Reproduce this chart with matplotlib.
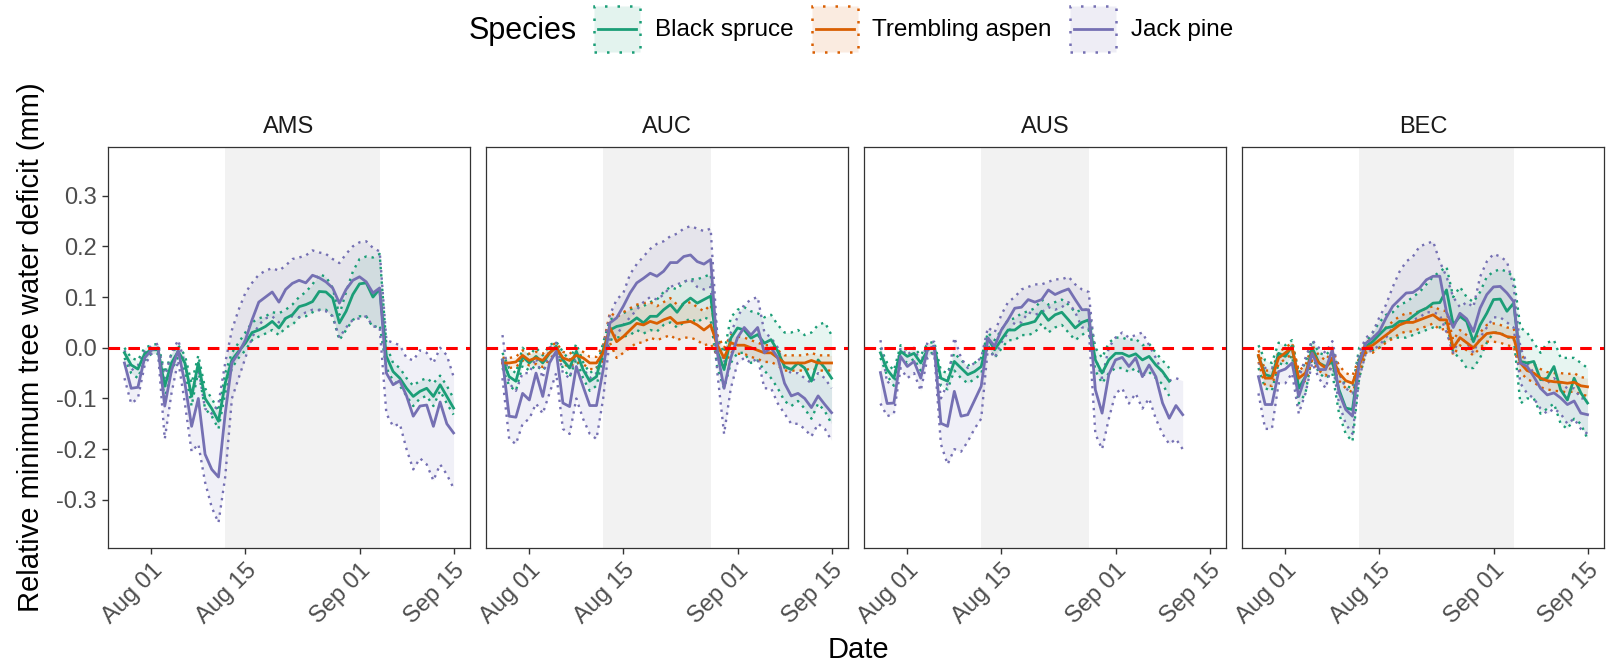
import numpy as np
import pandas as pd
import matplotlib
matplotlib.use("Agg")
import matplotlib.pyplot as plt
import matplotlib.dates as mdates
from matplotlib.patches import Patch, Rectangle
from matplotlib.lines import Line2D
from matplotlib.colors import to_rgba
from matplotlib.legend_handler import HandlerBase

plt.rcParams['font.family'] = ['Liberation Sans', 'DejaVu Sans']

# ---- data (relative minimum tree water deficit, mm), daily from Jul 28 ----
sites = ["AMS", "AUC", "AUS", "BEC"]
species = ["Black spruce", "Trembling aspen", "Jack pine"]
colors = ["#1B9E77", "#D95F02", "#7570B3"]
first_day = "2021-07-28"
drought_start = ["2021-08-12", "2021-08-12", "2021-08-12", "2021-08-12"]
drought_end = ["2021-09-04", "2021-08-28", "2021-08-28", "2021-09-04"]
tick_dates = ["2021-08-01", "2021-08-15", "2021-09-01", "2021-09-15"]

# AMS
ams_jp_mean = [-0.030, -0.080, -0.078, -0.020, -0.005, 0.000, -0.115, -0.045, -0.005, -0.070, -0.155, -0.100, -0.210, -0.240, -0.255, -0.130,
               -0.030, -0.010, 0.015, 0.055, 0.090, 0.100, 0.110, 0.090, 0.115, 0.127, 0.133, 0.128, 0.143, 0.138, 0.130, 0.118,
               0.088, 0.115, 0.133, 0.140, 0.130, 0.108, 0.118, -0.050, -0.073, -0.065, -0.095, -0.135, -0.115, -0.113, -0.155, -0.107, -0.150, -0.168]
ams_jp_hi = [-0.005, -0.045, -0.035, -0.008, 0.003, 0.008, -0.060, -0.010, 0.015, -0.030, -0.095, -0.040, -0.120, -0.130, -0.110, -0.030,
             0.035, 0.075, 0.108, 0.128, 0.144, 0.152, 0.157, 0.152, 0.162, 0.175, 0.178, 0.182, 0.192, 0.188, 0.185, 0.175,
             0.167, 0.185, 0.200, 0.208, 0.210, 0.197, 0.190, 0.015, 0.010, 0.005, -0.020, -0.025, -0.005, -0.010, -0.030, 0.000, -0.015, -0.057]
ams_jp_lo = [-0.060, -0.110, -0.100, -0.035, -0.012, -0.010, -0.180, -0.090, -0.025, -0.110, -0.205, -0.190, -0.265, -0.315, -0.345, -0.255,
             -0.100, -0.060, -0.020, 0.020, 0.045, 0.058, 0.062, 0.050, 0.058, 0.062, 0.060, 0.070, 0.075, 0.074, 0.072, 0.062,
             0.020, 0.040, 0.055, 0.058, 0.062, 0.042, 0.040, -0.130, -0.155, -0.150, -0.200, -0.240, -0.218, -0.230, -0.262, -0.230, -0.250, -0.277]
ams_bs_mean = [-0.010, -0.034, -0.042, -0.012, -0.004, -0.004, -0.076, -0.030, -0.007, -0.030, -0.096, -0.030, -0.100, -0.120, -0.145, -0.070,
               -0.024, -0.007, 0.009, 0.030, 0.035, 0.042, 0.052, 0.039, 0.058, 0.065, 0.081, 0.085, 0.091, 0.111, 0.110, 0.098,
               0.049, 0.072, 0.105, 0.126, 0.128, 0.100, 0.116, -0.017, -0.047, -0.060, -0.080, -0.096, -0.086, -0.080, -0.096, -0.073, -0.096, -0.119]
ams_bs_hi = [0.000, -0.020, -0.025, 0.000, 0.005, 0.008, -0.050, -0.012, 0.005, -0.015, -0.070, -0.015, -0.080, -0.100, -0.125, -0.050,
             -0.010, 0.010, 0.030, 0.050, 0.058, 0.062, 0.070, 0.068, 0.075, 0.085, 0.100, 0.110, 0.125, 0.145, 0.140, 0.118,
             0.065, 0.110, 0.150, 0.175, 0.180, 0.178, 0.185, 0.005, -0.030, -0.040, -0.060, -0.075, -0.065, -0.060, -0.070, -0.055, -0.075, -0.100]
ams_bs_lo = [-0.020, -0.050, -0.060, -0.025, -0.012, -0.012, -0.100, -0.045, -0.018, -0.045, -0.115, -0.045, -0.120, -0.135, -0.160, -0.090,
             -0.040, -0.020, -0.005, 0.015, 0.022, 0.028, 0.035, 0.025, 0.040, 0.045, 0.060, 0.062, 0.070, 0.075, 0.075, 0.062,
             0.015, 0.035, 0.055, 0.062, 0.062, 0.040, 0.045, -0.040, -0.065, -0.075, -0.095, -0.115, -0.100, -0.095, -0.115, -0.085, -0.110, -0.132]

# AUC
auc_jp_mean = [-0.024, -0.135, -0.137, -0.090, -0.103, -0.050, -0.096, -0.030, -0.007, -0.109, -0.116, -0.037, -0.076, -0.114, -0.114, -0.043,
               0.049, 0.059, 0.082, 0.108, 0.128, 0.137, 0.147, 0.141, 0.151, 0.168, 0.168, 0.180, 0.183, 0.170, 0.165, 0.174,
               -0.010, -0.080, -0.020, 0.020, 0.040, 0.025, 0.040, -0.010, 0.000, -0.020, -0.070, -0.095, -0.090, -0.100, -0.118, -0.095, -0.112, -0.128]
auc_jp_hi = [0.025, -0.070, -0.085, -0.050, -0.050, -0.020, -0.060, 0.000, 0.010, -0.050, -0.060, -0.010, -0.040, -0.060, -0.050, 0.000,
             0.065, 0.095, 0.108, 0.145, 0.165, 0.180, 0.195, 0.205, 0.210, 0.220, 0.225, 0.235, 0.240, 0.235, 0.230, 0.235,
             0.020, -0.030, 0.030, 0.060, 0.085, 0.095, 0.100, 0.030, 0.020, 0.000, -0.040, -0.050, -0.050, -0.060, -0.070, -0.050, -0.060, -0.080]
auc_jp_lo = [-0.060, -0.180, -0.190, -0.150, -0.140, -0.110, -0.130, -0.090, -0.050, -0.160, -0.170, -0.100, -0.140, -0.170, -0.180, -0.100,
             0.020, 0.025, 0.045, 0.060, 0.075, 0.090, 0.100, 0.095, 0.105, 0.120, 0.125, 0.130, 0.135, 0.120, 0.115, 0.120,
             -0.050, -0.170, -0.080, -0.030, -0.020, -0.030, -0.020, -0.080, -0.080, -0.110, -0.130, -0.150, -0.150, -0.160, -0.175, -0.150, -0.160, -0.183]
auc_bs_mean = [-0.024, -0.057, -0.066, -0.017, -0.030, -0.017, -0.030, -0.011, 0.003, -0.024, -0.040, -0.007, -0.043, -0.066, -0.057, -0.004,
               0.035, 0.042, 0.045, 0.049, 0.059, 0.049, 0.062, 0.062, 0.075, 0.085, 0.070, 0.088, 0.098, 0.088, 0.095, 0.102,
               -0.007, -0.043, 0.019, 0.039, 0.035, 0.019, 0.026, 0.009, 0.016, -0.007, -0.037, -0.043, -0.030, -0.040, -0.066, -0.024, -0.040, -0.060]
auc_bs_hi = [-0.010, -0.040, -0.050, 0.000, -0.015, 0.000, -0.015, 0.005, 0.012, -0.008, -0.025, 0.008, -0.028, -0.050, -0.040, 0.010,
             0.055, 0.062, 0.068, 0.075, 0.082, 0.082, 0.090, 0.095, 0.110, 0.120, 0.115, 0.130, 0.135, 0.135, 0.140, 0.145,
             0.020, -0.010, 0.060, 0.075, 0.080, 0.072, 0.068, 0.060, 0.065, 0.045, 0.030, 0.030, 0.035, 0.025, 0.030, 0.045, 0.050, 0.025]
auc_bs_lo = [-0.040, -0.075, -0.085, -0.035, -0.045, -0.035, -0.045, -0.028, -0.008, -0.040, -0.058, -0.022, -0.060, -0.085, -0.075, -0.020,
             0.015, 0.020, 0.022, 0.025, 0.035, 0.028, 0.035, 0.032, 0.045, 0.050, 0.040, 0.050, 0.058, 0.050, 0.060, 0.055,
             -0.040, -0.080, -0.030, -0.010, -0.010, -0.030, -0.025, -0.045, -0.060, -0.080, -0.105, -0.115, -0.105, -0.120, -0.140, -0.110, -0.125, -0.150]
auc_ta_mean = [-0.030, -0.030, -0.028, -0.015, -0.025, -0.020, -0.025, -0.010, 0.000, -0.020, -0.025, -0.015, -0.020, -0.030, -0.030, -0.010,
               0.040, 0.012, 0.022, 0.035, 0.048, 0.045, 0.052, 0.048, 0.055, 0.060, 0.048, 0.050, 0.052, 0.045, 0.035, 0.045,
               0.005, -0.020, 0.010, 0.005, 0.005, 0.000, -0.005, -0.010, -0.010, -0.020, -0.030, -0.030, -0.030, -0.030, -0.025, -0.030, -0.030, -0.030]
auc_ta_hi = [-0.020, -0.020, -0.018, -0.005, -0.012, -0.008, -0.012, 0.002, 0.010, -0.008, -0.012, -0.002, -0.008, -0.018, -0.018, 0.005,
             0.070, 0.060, 0.070, 0.078, 0.085, 0.088, 0.090, 0.082, 0.090, 0.098, 0.085, 0.085, 0.090, 0.080, 0.072, 0.085,
             0.025, 0.000, 0.025, 0.022, 0.020, 0.015, 0.010, 0.005, 0.005, -0.005, -0.015, -0.015, -0.015, -0.015, -0.010, -0.015, -0.015, -0.015]
auc_ta_lo = [-0.040, -0.040, -0.038, -0.025, -0.035, -0.032, -0.038, -0.022, -0.010, -0.032, -0.038, -0.028, -0.032, -0.042, -0.042, -0.025,
             0.010, -0.020, -0.010, 0.000, 0.010, 0.010, 0.020, 0.015, 0.020, 0.025, 0.015, 0.020, 0.020, 0.015, 0.005, 0.008,
             -0.015, -0.040, -0.008, -0.012, -0.012, -0.018, -0.022, -0.028, -0.028, -0.035, -0.045, -0.045, -0.045, -0.045, -0.040, -0.045, -0.045, -0.045]

# AUS (series stop early)
aus_jp_mean = [-0.049, -0.110, -0.109, -0.017, -0.037, -0.027, -0.060, -0.004, 0.003, -0.149, -0.155, -0.086, -0.135, -0.132, -0.104, -0.076,
               0.019, 0.003, 0.035, 0.055, 0.078, 0.080, 0.095, 0.090, 0.095, 0.114, 0.105, 0.111, 0.116, 0.095, 0.075, 0.075,
               -0.083, -0.129, -0.053, -0.024, -0.019, -0.037, -0.020, -0.057, -0.034, -0.057, -0.109, -0.139, -0.114, -0.132]
aus_jp_hi = [0.015, -0.070, -0.060, 0.000, -0.015, 0.000, -0.030, 0.010, 0.012, -0.100, -0.070, 0.020, -0.020, -0.040, -0.030, -0.020,
             0.040, 0.030, 0.065, 0.090, 0.100, 0.115, 0.120, 0.125, 0.125, 0.130, 0.135, 0.135, 0.140, 0.125, 0.115, 0.110,
             -0.020, -0.060, 0.000, 0.020, 0.030, 0.020, 0.025, 0.030, 0.005, -0.020, -0.050, -0.065, -0.060, -0.065]
aus_jp_lo = [-0.110, -0.135, -0.130, -0.040, -0.060, -0.050, -0.085, -0.020, -0.010, -0.190, -0.230, -0.200, -0.205, -0.185, -0.160, -0.140,
             0.000, -0.020, 0.010, 0.030, 0.050, 0.050, 0.070, 0.065, 0.070, 0.080, 0.075, 0.080, 0.090, 0.070, 0.040, 0.040,
             -0.170, -0.200, -0.140, -0.090, -0.080, -0.110, -0.090, -0.120, -0.100, -0.140, -0.170, -0.190, -0.180, -0.200]
aus_bs_mean = [-0.010, -0.043, -0.060, -0.007, -0.017, -0.011, -0.030, -0.004, 0.003, -0.060, -0.066, -0.027, -0.040, -0.053, -0.047, -0.037,
               0.019, -0.004, 0.016, 0.035, 0.035, 0.045, 0.048, 0.052, 0.072, 0.054, 0.065, 0.070, 0.055, 0.039, 0.050, 0.055,
               -0.024, -0.050, -0.024, -0.011, -0.011, -0.017, -0.012, -0.024, -0.017, -0.034, -0.047, -0.066]
aus_bs_hi = [0.000, -0.030, -0.045, 0.005, -0.005, 0.000, -0.015, 0.008, 0.012, -0.045, -0.050, -0.010, -0.025, -0.035, -0.030, -0.020,
             0.030, 0.015, 0.035, 0.055, 0.058, 0.068, 0.072, 0.078, 0.095, 0.085, 0.090, 0.095, 0.085, 0.070, 0.075, 0.075,
             0.000, -0.020, 0.010, 0.020, 0.020, 0.015, 0.018, 0.005, 0.008, -0.010, -0.025, -0.040]
aus_bs_lo = [-0.020, -0.055, -0.075, -0.020, -0.030, -0.022, -0.045, -0.015, -0.008, -0.075, -0.082, -0.045, -0.060, -0.070, -0.062, -0.052,
             0.005, -0.020, -0.002, 0.015, 0.015, 0.025, 0.025, 0.030, 0.048, 0.030, 0.040, 0.045, 0.030, 0.015, 0.025, 0.035,
             -0.045, -0.070, -0.050, -0.040, -0.040, -0.048, -0.040, -0.055, -0.048, -0.060, -0.072, -0.095]

# BEC
bec_jp_mean = [-0.057, -0.112, -0.112, -0.047, -0.042, -0.030, -0.096, -0.057, -0.011, -0.043, -0.043, -0.004, -0.089, -0.122, -0.135, -0.030,
               0.009, 0.019, 0.032, 0.059, 0.082, 0.095, 0.108, 0.109, 0.118, 0.134, 0.141, 0.141, 0.070, 0.040, 0.068, 0.057,
               0.032, 0.078, 0.105, 0.120, 0.121, 0.108, 0.091, -0.030, -0.037, -0.057, -0.080, -0.093, -0.089, -0.099, -0.112, -0.105, -0.129, -0.132]
bec_jp_hi = [-0.030, -0.040, -0.040, -0.020, -0.010, 0.000, -0.060, -0.020, 0.015, 0.000, -0.010, 0.013, -0.050, -0.080, -0.090, -0.010,
             0.020, 0.030, 0.060, 0.085, 0.120, 0.150, 0.170, 0.180, 0.200, 0.205, 0.210, 0.170, 0.140, 0.100, 0.080, 0.090,
             0.080, 0.140, 0.170, 0.185, 0.180, 0.170, 0.120, 0.000, -0.030, -0.050, -0.060, -0.070, -0.060, -0.070, -0.080, -0.080, -0.100, -0.100]
bec_jp_lo = [-0.090, -0.160, -0.160, -0.070, -0.070, -0.050, -0.130, -0.090, -0.030, -0.060, -0.080, -0.030, -0.110, -0.150, -0.170, -0.060,
             -0.010, -0.005, 0.005, 0.020, 0.040, 0.050, 0.055, 0.055, 0.060, 0.070, 0.070, 0.065, 0.030, -0.010, 0.020, 0.010,
             -0.010, 0.020, 0.040, 0.060, 0.060, 0.050, 0.040, -0.070, -0.090, -0.100, -0.120, -0.130, -0.120, -0.130, -0.150, -0.140, -0.160, -0.170]
bec_bs_mean = [-0.017, -0.053, -0.057, -0.011, -0.017, 0.003, -0.080, -0.057, 0.000, -0.030, -0.037, -0.027, -0.083, -0.119, -0.122, -0.024,
               0.003, 0.012, 0.026, 0.039, 0.042, 0.052, 0.052, 0.062, 0.072, 0.078, 0.088, 0.089, 0.114, 0.045, 0.062, 0.052,
               0.012, 0.045, 0.068, 0.095, 0.096, 0.072, 0.088, -0.027, -0.030, -0.027, -0.063, -0.060, -0.037, -0.083, -0.103, -0.060, -0.089, -0.109]
bec_bs_hi = [0.005, -0.025, -0.030, 0.010, 0.005, 0.015, -0.050, -0.030, 0.015, -0.010, -0.015, 0.000, -0.050, -0.075, -0.080, 0.000,
             0.010, 0.030, 0.050, 0.065, 0.070, 0.085, 0.090, 0.100, 0.110, 0.125, 0.140, 0.150, 0.160, 0.100, 0.120, 0.100,
             0.090, 0.110, 0.140, 0.150, 0.155, 0.150, 0.140, 0.040, 0.030, 0.010, -0.010, 0.010, 0.015, -0.020, -0.020, -0.020, -0.030, -0.040]
bec_bs_lo = [-0.040, -0.080, -0.085, -0.030, -0.035, -0.015, -0.110, -0.090, -0.015, -0.050, -0.060, -0.050, -0.130, -0.170, -0.185, -0.060,
             -0.010, -0.005, 0.000, 0.015, 0.020, 0.020, 0.020, 0.025, 0.030, 0.035, 0.040, 0.040, 0.050, -0.010, -0.020, -0.040,
             -0.040, -0.020, 0.010, 0.030, 0.030, 0.020, 0.020, -0.110, -0.100, -0.100, -0.130, -0.120, -0.110, -0.150, -0.160, -0.140, -0.150, -0.180]
bec_ta_mean = [-0.015, -0.060, -0.060, -0.020, -0.010, 0.000, -0.060, -0.050, -0.010, -0.030, -0.040, -0.020, -0.050, -0.065, -0.070, -0.035,
               0.000, 0.005, 0.015, 0.025, 0.035, 0.045, 0.050, 0.050, 0.055, 0.060, 0.065, 0.055, 0.055, 0.000, 0.020, 0.010,
               0.000, 0.015, 0.028, 0.030, 0.028, 0.022, 0.020, -0.030, -0.045, -0.050, -0.060, -0.065, -0.067, -0.068, -0.070, -0.068, -0.075, -0.077]
bec_ta_hi = [-0.005, -0.045, -0.045, -0.008, 0.000, 0.010, -0.045, -0.035, 0.005, -0.015, -0.025, -0.005, -0.035, -0.050, -0.055, -0.020,
             0.010, 0.020, 0.030, 0.040, 0.052, 0.062, 0.068, 0.068, 0.072, 0.078, 0.082, 0.075, 0.072, 0.015, 0.035, 0.025,
             0.015, 0.030, 0.045, 0.048, 0.045, 0.040, 0.038, -0.012, -0.028, -0.032, -0.042, -0.048, -0.050, -0.050, -0.052, -0.050, -0.058, -0.060]
bec_ta_lo = [-0.028, -0.075, -0.075, -0.032, -0.022, -0.012, -0.075, -0.065, -0.025, -0.045, -0.055, -0.035, -0.065, -0.080, -0.088, -0.050,
             -0.010, -0.010, 0.000, 0.010, 0.018, 0.028, 0.032, 0.032, 0.038, 0.042, 0.048, 0.035, 0.038, -0.015, 0.005, -0.005,
             -0.015, 0.000, 0.012, 0.012, 0.010, 0.005, 0.002, -0.048, -0.062, -0.068, -0.078, -0.082, -0.085, -0.086, -0.088, -0.086, -0.092, -0.095]

# site -> list of (species index, mean, lower, upper), in drawing order
series = {
    "AMS": [(0, ams_bs_mean, ams_bs_lo, ams_bs_hi), (2, ams_jp_mean, ams_jp_lo, ams_jp_hi)],
    "AUC": [(0, auc_bs_mean, auc_bs_lo, auc_bs_hi), (1, auc_ta_mean, auc_ta_lo, auc_ta_hi), (2, auc_jp_mean, auc_jp_lo, auc_jp_hi)],
    "AUS": [(0, aus_bs_mean, aus_bs_lo, aus_bs_hi), (2, aus_jp_mean, aus_jp_lo, aus_jp_hi)],
    "BEC": [(0, bec_bs_mean, bec_bs_lo, bec_bs_hi), (1, bec_ta_mean, bec_ta_lo, bec_ta_hi), (2, bec_jp_mean, bec_jp_lo, bec_jp_hi)],
}


# legend key: shaded box with dotted border and a line through the middle
class RibbonKey(HandlerBase):
    def create_artists(self, legend, orig, xd, yd, w, h, fontsize, trans):
        c = orig.get_edgecolor()
        box = Rectangle((-xd, -yd), w, h, facecolor=to_rgba(c, 0.12), edgecolor=c,
                        linestyle=(0, (1, 4.0)), linewidth=1.8, transform=trans)
        ln = Line2D([-xd + 3, -xd + w - 3], [-yd + h / 2] * 2, color=c, lw=2.0, transform=trans)
        return [box, ln]


# ---- figure ----
W, H = 1610, 668
fig = plt.figure(figsize=(W / 100, H / 100), dpi=100)
panel_left = [108, 486, 864, 1242]
panel_w, panel_top, panel_bot = 362, 147, 548

x0 = pd.Timestamp(first_day) - pd.Timedelta(days=2.45)
x1 = pd.Timestamp(first_day) + pd.Timedelta(days=49 + 2.45)
dotted = (0, (1, 2.1))
edge_col = "#333333"

for i, site in enumerate(sites):
    ax = fig.add_axes([panel_left[i] / W, 1 - panel_bot / H, panel_w / W, (panel_bot - panel_top) / H])
    ax.axvspan(pd.Timestamp(drought_start[i]), pd.Timestamp(drought_end[i]), color="#F2F2F2", lw=0, zorder=0)
    items = series[site]
    for k, m, lo, hi in items:
        d = pd.date_range(first_day, periods=len(m))
        ax.fill_between(d, lo, hi, color=to_rgba(colors[k], 0.10), lw=0, zorder=1)
    for k, m, lo, hi in items:
        d = pd.date_range(first_day, periods=len(m))
        ax.plot(d, lo, color=colors[k], lw=1.7, ls=dotted, zorder=2)
        ax.plot(d, hi, color=colors[k], lw=1.7, ls=dotted, zorder=2)
    for k, m, lo, hi in items:
        d = pd.date_range(first_day, periods=len(m))
        ax.plot(d, m, color=colors[k], lw=2.0, zorder=3)
    ax.axhline(0, color="#FF0000", lw=2.2, ls=(0, (3.8, 2.7)), zorder=4)

    ax.set_xlim(x0, x1)
    ax.set_ylim(-0.395, 0.396)
    ax.set_xticks(pd.to_datetime(tick_dates))
    ax.xaxis.set_major_formatter(mdates.DateFormatter("%b %d"))
    ax.set_yticks([-0.3, -0.2, -0.1, 0.0, 0.1, 0.2, 0.3])
    ax.yaxis.set_major_formatter(plt.FuncFormatter(lambda v, p: f"{v:.1f}"))
    ax.tick_params(axis="both", length=4, width=1.0, color=edge_col, labelsize=17, labelcolor="#4D4D4D", pad=4)
    for lab in ax.get_xticklabels():
        lab.set_rotation(45)
        lab.set_ha("right")
        lab.set_va("top")
        lab.set_rotation_mode("anchor")
    if i > 0:
        ax.tick_params(axis="y", left=False, labelleft=False)
    for sp in ax.spines.values():
        sp.set_color(edge_col)
        sp.set_linewidth(0.9)
    ax.set_title(site, fontsize=17, color="#1A1A1A", pad=10)

fig.text(31 / W, 1 - 347.5 / H, "Relative minimum tree water deficit (mm)", rotation=90,
         ha="center", va="center", fontsize=21)
fig.text(858 / W, 1 - 650 / H, "Date", ha="center", va="center", fontsize=21)

# legend on top
fig.text(469 / W, 1 - 31 / H, "Species", ha="left", va="center", fontsize=22)
handles = [Patch(edgecolor=c) for c in colors]
fig.legend(handles, species, loc="center left", bbox_to_anchor=(594 / W, 1 - 29 / H), ncol=3,
           frameon=False, fontsize=17.5, handlelength=1.9, handleheight=2.55, handletextpad=0.6,
           columnspacing=0.75, borderpad=0, borderaxespad=0, handler_map={Patch: RibbonKey()})

fig.savefig("out.png", dpi=100)
